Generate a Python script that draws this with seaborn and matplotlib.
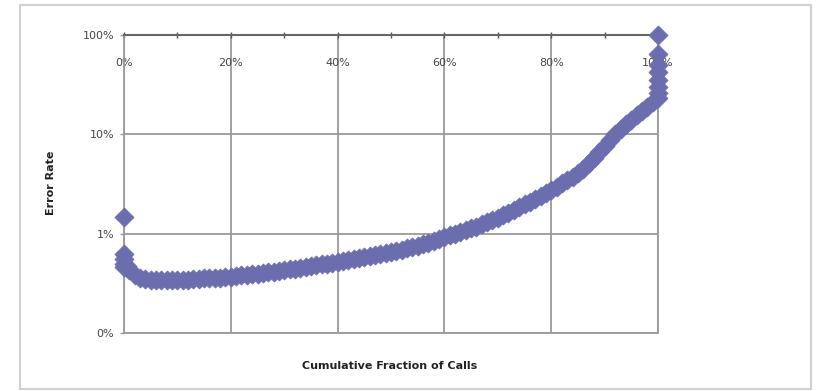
import numpy as np
import pandas as pd
import matplotlib
matplotlib.use("Agg")
import matplotlib.pyplot as plt
import seaborn as sns
from matplotlib.patches import Rectangle
from matplotlib.ticker import FixedLocator, MultipleLocator

# cumulative fraction of calls (%) and error rate (%)
frac_pct = list(range(0, 101))
rate_pct = [
    0.62, 0.43, 0.38, 0.36, 0.35, 0.345, 0.34, 0.34, 0.34, 0.34,
    0.34, 0.345, 0.345, 0.35, 0.35, 0.355, 0.355, 0.36, 0.36, 0.365,
    0.37, 0.375, 0.38, 0.385, 0.39, 0.395, 0.40, 0.41, 0.415, 0.42,
    0.43, 0.44, 0.445, 0.455, 0.46, 0.47, 0.48, 0.49, 0.50, 0.51,
    0.52, 0.53, 0.54, 0.555, 0.565, 0.58, 0.59, 0.605, 0.62, 0.635,
    0.65, 0.67, 0.69, 0.71, 0.73, 0.75, 0.78, 0.81, 0.84, 0.88,
    0.92, 0.96, 1.0, 1.04, 1.08, 1.13, 1.18, 1.24, 1.30, 1.37,
    1.45, 1.53, 1.62, 1.73, 1.85, 1.97, 2.1, 2.25, 2.4, 2.57,
    2.75, 2.97, 3.2, 3.45, 3.7, 4.05, 4.5, 5.1, 5.8, 6.7,
    7.7, 8.8, 10.0, 11.3, 12.6, 14.0, 15.5, 17.2, 19.0, 21.0,
    23.0,
]
# extra points stacked at both ends
edge_frac = [0, 0, 0, 0, 0.5, 100, 100, 100, 100, 100, 100, 100]
edge_rate = [0.55, 0.50, 0.46, 1.48, 0.47, 26, 30, 35, 42, 50, 65, 100]

x_ticks = [0, 20, 40, 60, 80, 100]
x_labels = ["0%", "20%", "40%", "60%", "80%", "100%"]
y_ticks = [0.1, 1, 10, 100]
y_labels = ["0%", "1%", "10%", "100%"]

df = pd.DataFrame({
    "frac": frac_pct + edge_frac,
    "rate": rate_pct + edge_rate,
})

sns.set_style("white")
plt.rcParams["font.family"] = ["DejaVu Sans"]

fig = plt.figure(figsize=(8.16, 3.91), dpi=100)
ax = fig.add_axes([124 / 816, 1 - 333 / 391, (658 - 124) / 816, (333 - 35) / 391])

# chart area border
fig.patches.append(Rectangle((20 / 816, 2 / 391), 791 / 816, 384 / 391,
                             transform=fig.transFigure, fill=False,
                             edgecolor="#d0d0d0", linewidth=1.5))

sns.scatterplot(data=df, x="frac", y="rate", ax=ax, marker="D", s=95,
                color="#6b6daf", edgecolor="#6b6daf", linewidth=0.5,
                zorder=3, clip_on=False)

ax.set_yscale("log")
ax.set_xlim(0, 100)
ax.set_ylim(0.1, 100)

grid_c = "#9a9a9a"
ax.yaxis.set_major_locator(FixedLocator(y_ticks))
ax.yaxis.set_minor_locator(FixedLocator([]))
ax.set_yticklabels(y_labels)
ax.set_xticks(x_ticks)
ax.set_xticklabels(x_labels)
ax.xaxis.set_minor_locator(MultipleLocator(10))

ax.grid(True, which="major", axis="both", color=grid_c, linewidth=1.3)

ax.xaxis.set_ticks_position("top")
ax.tick_params(axis="x", which="both", top=True, bottom=False,
               labeltop=True, labelbottom=False, direction="inout",
               length=4, width=1, color="#555555", pad=-26,
               labelsize=8, labelcolor="#444444")
ax.tick_params(axis="y", which="major", left=True, length=3, width=1,
               color=grid_c, labelsize=8, labelcolor="#444444", pad=4)

for side in ["left", "right", "bottom"]:
    ax.spines[side].set_color(grid_c)
    ax.spines[side].set_linewidth(1.3)
ax.spines["top"].set_color("#666666")
ax.spines["top"].set_linewidth(1.5)

ax.set_xlabel("")
ax.set_ylabel("")
fig.text(390 / 816, 1 - 366 / 391, "Cumulative Fraction of Calls",
         ha="center", va="center", fontsize=8, fontweight="bold", color="#222222")
fig.text(51 / 816, 1 - 183 / 391, "Error Rate", ha="center", va="center",
         rotation=90, fontsize=8, fontweight="bold", color="#222222")

fig.savefig("out.png", dpi=100)
